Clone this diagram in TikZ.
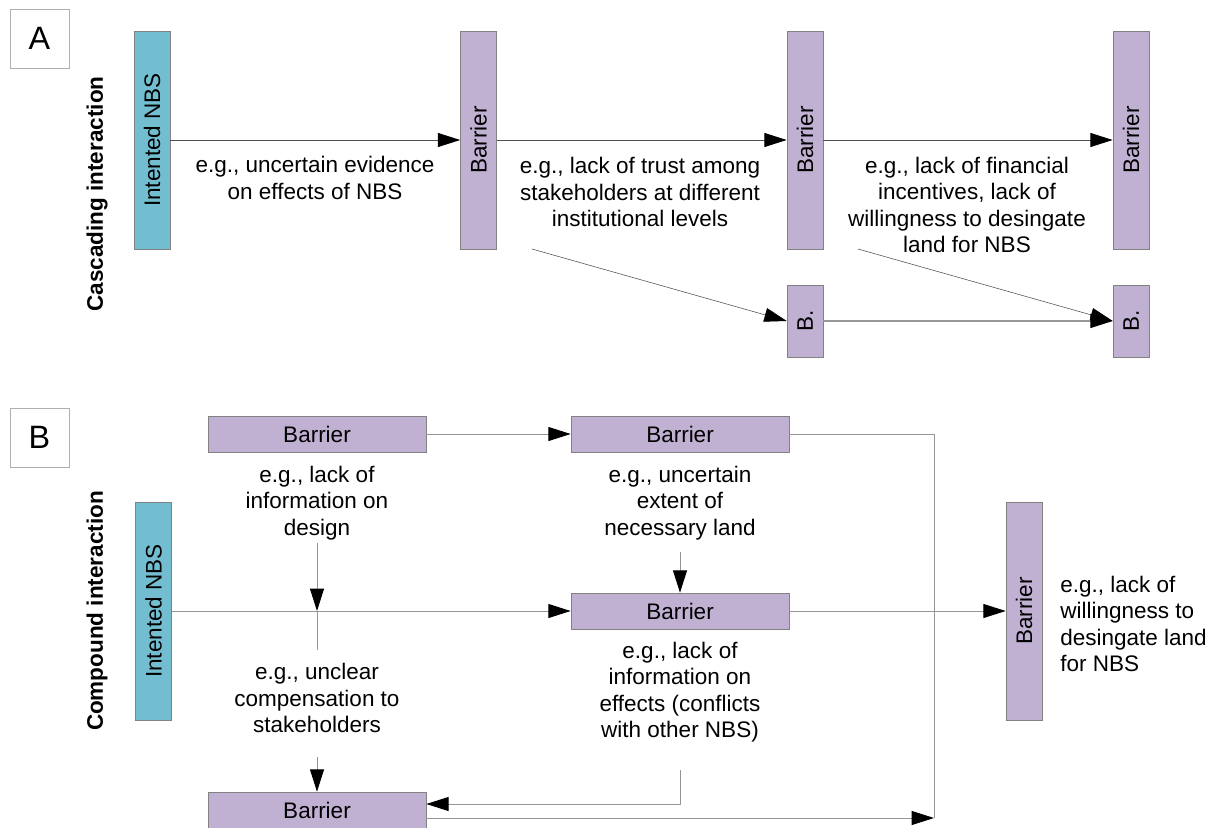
\documentclass[tikz,border=0pt]{standalone}
\usepackage{fontspec}
\setmainfont{Liberation Sans}
\usetikzlibrary{arrows.meta}
\definecolor{nbscol}{RGB}{114,190,208}
\definecolor{barcol}{RGB}{192,176,210}
\definecolor{edgecol}{RGB}{130,130,130}
\definecolor{lineA}{RGB}{80,80,80}
\definecolor{lineB}{RGB}{150,150,150}
\definecolor{framecol}{RGB}{175,175,175}
\tikzset{
  vbar/.style={draw=edgecol, fill=barcol, minimum width=0.9cm, minimum height=5.45cm, inner sep=0pt},
  sbar/.style={draw=edgecol, fill=barcol, minimum width=0.9cm, minimum height=1.8cm, inner sep=0pt},
  hbar/.style={draw=edgecol, fill=barcol, minimum width=5.45cm, minimum height=0.9cm, inner sep=0pt},
  nbsbox/.style={draw=edgecol, fill=nbscol, minimum width=0.9cm, minimum height=5.45cm, inner sep=0pt},
  panellabel/.style={draw=framecol, minimum size=1.475cm, inner sep=0pt, font=\fontsize{23}{27}\selectfont},
  sidelabel/.style={inner sep=0pt, font=\fontsize{16}{19}\selectfont\bfseries},
  note/.style={inner sep=0pt, align=center},
  tipA/.style={-{Triangle[length=5.6mm,width=3.5mm,color=black]}},
}
\begin{document}
\begin{tikzpicture}[x=0.025cm, y=-0.025cm, font=\fontsize{16}{18.8}\selectfont]
\useasboundingbox (0,0) rectangle (1223,828);
% panel A
\node[panellabel] (labA) at (39.5,38.5) {A};
\node[sidelabel] (sideA) at (97,194) {\rotatebox{90}{Cascading interaction}};
\node[nbsbox] (nbsA) at (152,140) {\rotatebox{90}{Intented NBS}};
\node[vbar] (barA1) at (478.5,140) {\rotatebox{90}{Barrier}};
\node[vbar] (barA2) at (805,140) {\rotatebox{90}{Barrier}};
\node[vbar] (barA3) at (1131,140) {\rotatebox{90}{Barrier}};
\node[sbar] (bA1) at (805,321) {\rotatebox{90}{B.}};
\node[sbar] (bA2) at (1131,321) {\rotatebox{90}{B.}};
\node[note] (noteA1) at (315,178) {e.g., uncertain evidence\\on effects of NBS};
\node[note] (noteA2) at (640,192) {e.g., lack of trust among\\stakeholders at different\\institutional levels};
\node[note] (noteA3) at (967,205) {e.g., lack of financial\\incentives, lack of\\willingness to desingate\\land for NBS};
\coordinate (tailA1) at (532,249);
\coordinate (tailA2) at (858,249);
\draw[tipA, lineA, line width=0.7pt] (nbsA) -- (barA1);
\draw[tipA, lineA, line width=0.7pt] (barA1) -- (barA2);
\draw[tipA, lineA, line width=0.7pt] (barA2) -- (barA3);
\draw[tipA, lineA, line width=0.4pt] (tailA1) -- (bA1.west);
\draw[tipA, lineA, line width=0.4pt] (tailA2) -- (bA2.west);
\draw[tipA, lineB, line width=0.8pt] (bA1) -- (bA2);

% panel B
\node[panellabel] (labB) at (39.5,437.5) {B};
\node[sidelabel] (sideB) at (97,611) {\rotatebox{90}{Compound interaction}};
\node[nbsbox] (nbsB) at (153.5,611) {\rotatebox{90}{Intented NBS}};
\node[hbar] (barB1) at (317,434) {Barrier};
\node[hbar] (barB2) at (680,434) {Barrier};
\node[hbar] (barB3) at (680,611) {Barrier};
\node[hbar] (barB4) at (317,810) {Barrier};
\node[vbar] (barB5) at (1024,611) {\rotatebox{90}{Barrier}};
\node[note] (noteB1) at (317,503) {e.g., lack of\\information on\\design};
\node[note] (noteB2) at (680,503) {e.g., uncertain\\extent of\\necessary land};
\node[note] (noteB3) at (317,698) {e.g., unclear\\compensation to\\stakeholders};
\node[note] (noteB4) at (680,692) {e.g., lack of\\information on\\effects (conflicts\\with other NBS)};
\node[note, anchor=west, align=left] (noteB5) at (1060,624) {e.g., lack of\\willingness to\\desingate land\\for NBS};
\coordinate (crossB) at (317,611);
\coordinate (jB) at (934,818);
\draw[tipA, lineB, line width=0.7pt] (barB1) -- (barB2);
\draw[lineB, line width=0.7pt] (barB2.east) -| (jB);
\draw[tipA, lineB, line width=0.7pt] (barB4.east |- jB) -- (jB);
\draw[tipA, lineB, line width=0.7pt] (nbsB) -- (barB3);
\draw[tipA, lineB, line width=0.7pt, shorten <=2pt] (noteB1) -- (crossB);
\draw[lineB, line width=0.7pt, shorten >=0.33cm] (crossB) -- (noteB3);
\draw[tipA, lineB, line width=0.7pt, shorten <=0.6cm] (noteB3) -- (barB4);
\draw[tipA, lineB, line width=0.7pt, shorten <=0.3cm] (noteB2) -- (barB3);
\draw[tipA, lineB, line width=0.7pt, shorten <=0.7cm] (noteB4.south) |- ([yshift=0.15cm]barB4.east);
\draw[tipA, lineB, line width=0.7pt] (barB3) -- (barB5);
\end{tikzpicture}
\end{document}
